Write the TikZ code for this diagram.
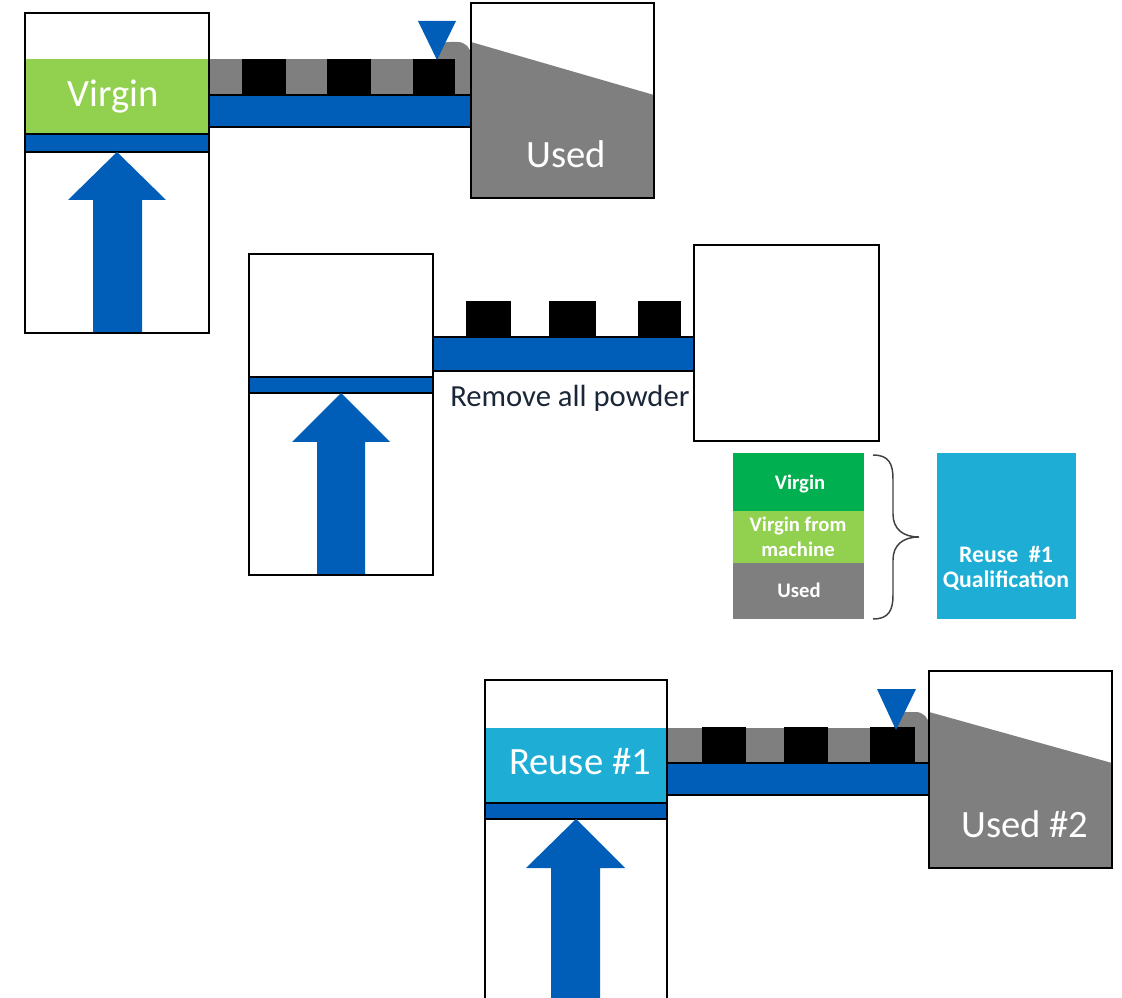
\documentclass[tikz,border=0pt]{standalone}
\usepackage{fontspec}
\setmainfont{Carlito}
\definecolor{pblue}{HTML}{005EB8}
\definecolor{lgreen}{HTML}{92D050}
\definecolor{dgreen}{HTML}{00B050}
\definecolor{pgray}{HTML}{7F7F7F}
\definecolor{pcyan}{HTML}{1EAED5}
\definecolor{ink}{HTML}{1B2638}
\tikzset{
  frame/.style={draw=black, line width=1.1pt},
  plate/.style={fill=pblue, draw=black, line width=0.9pt},
  lift/.style={fill=pblue},
  part/.style={fill=black},
  powder/.style={fill=pgray},
  bigtxt/.style={text=white, font=\fontsize{29pt}{33pt}\selectfont, anchor=base, inner sep=0pt},
  smalltxt/.style={text=white, font=\bfseries\fontsize{15.5pt}{18pt}\selectfont, anchor=base, inner sep=0pt},
  qualtxt/.style={smalltxt, font=\bfseries\fontsize{17.8pt}{20pt}\selectfont},
}
\begin{document}
\begin{tikzpicture}[x=0.75pt,y=-0.75pt]
\path[use as bounding box] (0,0) rectangle (1122,998);
\clip (0,0) rectangle (1122,998);

% ---------- build 1: virgin powder ----------
\fill[lgreen] (25,59) rectangle (209,134);
\draw[plate] (25,134) rectangle (209,152);
\fill[lift] (93,334) -- (93,200) -- (68,200) -- (117,152) -- (166,200) -- (142,200) -- (142,334) -- cycle;
\fill[powder] (209,59) rectangle (471,95);
\fill[powder, rounded corners=10] (436,80) -- (436,42) -- (471,42) -- (471,80) -- cycle;
\foreach \a/\b in {242/286, 327/371, 413/455} \fill[part] (\a,59) rectangle (\b,95);
\draw[plate] (209,95) rectangle (471,127);
\fill[pblue] (418,21) -- (456,21) -- (437,60) -- cycle;
\fill[powder] (471,42) -- (654,95) -- (654,198) -- (471,198) -- cycle;
\draw[frame] (471,3) rectangle (654,198);
\draw[frame] (25,13) rectangle (209,333);
\node[bigtxt] (virgin1) at (113,107) {Virgin};
\node[bigtxt] (used1) at (566,168) {Used};

% ---------- build 2: cleaned machine ----------
\draw[plate] (249,377) rectangle (433,393);
\fill[lift] (317,576) -- (317,442) -- (292,442) -- (341,393) -- (390,442) -- (365,442) -- (365,576) -- cycle;
\foreach \a/\b in {466/511, 549/596, 638/681} \fill[part] (\a,301) rectangle (\b,337);
\draw[plate] (433,337) rectangle (694,371);
\draw[frame] (694,245) rectangle (879,441);
\draw[frame] (249,254) rectangle (433,575);
\node[text=ink, font=\fontsize{23pt}{27pt}\selectfont, anchor=base west, inner sep=0pt] (remove) at (450,407) {Remove all powder};

% ---------- powder blend ----------
\fill[dgreen] (733,453) rectangle (864,511);
\fill[lgreen] (733,511) rectangle (864,563);
\fill[pgray] (733,563) rectangle (864,619);
\node[smalltxt] (mixv) at (800,490) {Virgin};
\node[smalltxt] (mixm1) at (798,532) {Virgin from};
\node[smalltxt] (mixm2) at (798,557) {machine};
\node[smalltxt] (mixu) at (799,598) {Used};
\draw[draw=black!75, line width=1.1pt]
  (873,455) .. controls (889,455) and (893,464) .. (893,479)
  -- (893,514) .. controls (893,529) and (903,537) .. (919,537)
  .. controls (903,537) and (893,545) .. (893,560)
  -- (893,595) .. controls (893,610) and (889,619) .. (873,619);
\fill[pcyan] (937,453) rectangle (1076,619);
\node[qualtxt] (reuseq1) at (1006,563) {Reuse\ \ \#1};
\node[qualtxt] (reuseq2) at (1006,588) {Qualification};

% ---------- build 3: reuse #1 powder ----------
\fill[pcyan] (485,728) rectangle (667,803);
\draw[plate] (485,803) rectangle (667,819);
\fill[lift] (551,1005) -- (551,868) -- (526,868) -- (576,819) -- (625,868) -- (600,868) -- (600,1005) -- cycle;
\fill[powder] (667,728) rectangle (929,763);
\fill[powder, rounded corners=10] (894,745) -- (894,712) -- (929,712) -- (929,745) -- cycle;
\foreach \a/\b in {702/746, 784/828, 870/915} \fill[part] (\a,727) rectangle (\b,763);
\draw[plate] (667,763) rectangle (929,795);
\fill[pblue] (877,689) -- (916,689) -- (896,730) -- cycle;
\fill[powder] (929,712) -- (1112,763) -- (1112,868) -- (929,868) -- cycle;
\draw[frame] (929,671) rectangle (1112,868);
\draw[frame] (485,680) rectangle (667,1010);
\node[bigtxt] (reuse1) at (580,774) {Reuse \#1};
\node[bigtxt] (used2) at (1025,837) {Used \#2};
\end{tikzpicture}
\end{document}
